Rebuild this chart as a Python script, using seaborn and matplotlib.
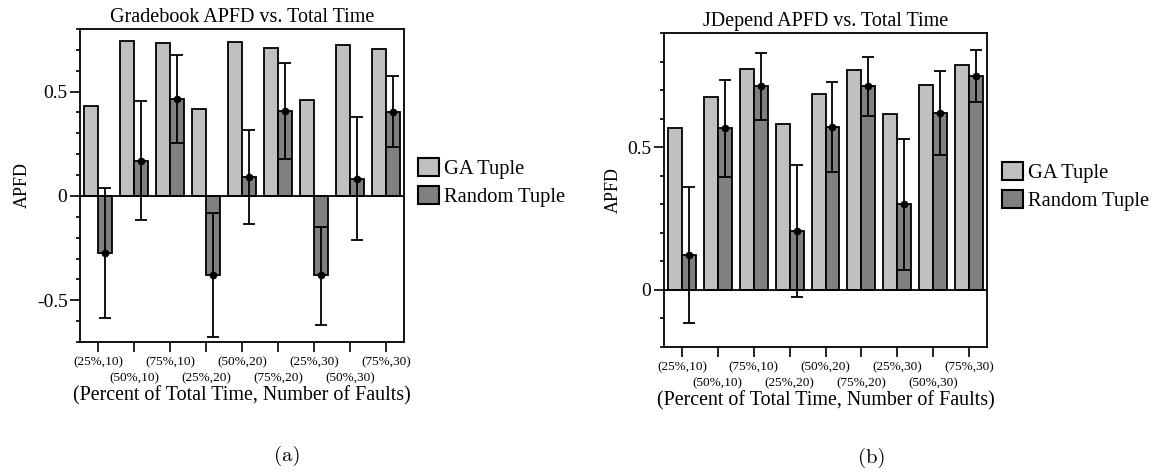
import numpy as np
import pandas as pd
import matplotlib
matplotlib.use("Agg")
import matplotlib.pyplot as plt
import matplotlib.patches as mpatches
from matplotlib.ticker import MultipleLocator, FixedLocator, FixedFormatter
import seaborn as sns

# ---------------- data ----------------
categories = ["(25%,10)", "(50%,10)", "(75%,10)", "(25%,20)", "(50%,20)",
              "(75%,20)", "(25%,30)", "(50%,30)", "(75%,30)"]
series = ["GA Tuple", "Random Tuple"]

grade_ga = [0.430, 0.744, 0.732, 0.416, 0.739, 0.709, 0.462, 0.725, 0.705]
grade_rand = [-0.272, 0.167, 0.465, -0.381, 0.091, 0.406, -0.381, 0.083, 0.403]
grade_rand_lo = [-0.586, -0.116, 0.252, -0.675, -0.135, 0.178, -0.619, -0.209, 0.236]
grade_rand_hi = [0.040, 0.454, 0.677, -0.083, 0.314, 0.637, -0.148, 0.377, 0.573]

jdep_ga = [0.568, 0.676, 0.773, 0.581, 0.688, 0.772, 0.616, 0.717, 0.787]
jdep_rand = [0.122, 0.566, 0.715, 0.205, 0.571, 0.714, 0.300, 0.621, 0.750]
jdep_rand_lo = [-0.117, 0.395, 0.595, -0.025, 0.414, 0.608, 0.071, 0.471, 0.657]
jdep_rand_hi = [0.360, 0.737, 0.831, 0.436, 0.729, 0.816, 0.528, 0.768, 0.841]

titles = ["Gradebook APFD vs. Total Time", "JDepend APFD vs. Total Time"]
captions = ["(a)", "(b)"]
xlabel = "(Percent of Total Time, Number of Faults)"
ylabel = "APFD"

colors = ["#c0c0c0", "#808080"]

plt.rcParams["font.family"] = ["Liberation Serif", "DejaVu Serif"]

fig = plt.figure(figsize=(11.57, 4.76), dpi=100)
W, H = 1157, 476

def frac(l, t, r, b):
    return [l / W, 1 - b / H, (r - l) / W, (b - t) / H]

panels = [
    dict(rect=frac(80, 29, 404, 342), ga=grade_ga, rd=grade_rand, lo=grade_rand_lo,
         hi=grade_rand_hi, ylim=(-0.7, 0.8), leg=(418, 158), cap=(287, 456)),
    dict(rect=frac(664, 33, 987, 347), ga=jdep_ga, rd=jdep_rand, lo=jdep_rand_lo,
         hi=jdep_rand_hi, ylim=(-0.2, 0.9), leg=(1002, 162), cap=(872, 458)),
]

for i, p in enumerate(panels):
    ax = fig.add_axes(p["rect"])
    df = pd.DataFrame({
        "cond": categories * 2,
        "series": [series[0]] * len(categories) + [series[1]] * len(categories),
        "apfd": list(p["ga"]) + list(p["rd"]),
    })
    sns.barplot(data=df, x="cond", y="apfd", hue="series", order=categories,
                hue_order=series, palette=colors, edgecolor="black", linewidth=1.3,
                width=0.78, gap=0, errorbar=None, ax=ax, legend=False, zorder=2)
    # error bars on random series
    rbars = ax.containers[1]
    xs = np.array([b.get_x() + b.get_width() / 2 for b in rbars])
    m = np.array(p["rd"])
    lo = np.array(p["lo"])
    hi = np.array(p["hi"])
    ax.errorbar(xs, m, yerr=[m - lo, hi - m], fmt="o", color="black", ms=4.5,
                capsize=4, elinewidth=1.3, capthick=1.3, zorder=4)
    ax.axhline(0, color="black", lw=1.3, zorder=3)

    ax.set_xlim(-0.5, len(categories) - 0.5)
    ax.set_ylim(*p["ylim"])
    ax.yaxis.set_major_locator(MultipleLocator(0.5))
    ax.yaxis.set_minor_locator(MultipleLocator(0.1))
    ax.yaxis.set_major_formatter(matplotlib.ticker.FuncFormatter(
        lambda v, pos: "0" if abs(v) < 1e-9 else f"{v:g}"))
    ax.tick_params(axis="y", which="major", length=7, width=1.2, labelsize=14, pad=2)
    ax.tick_params(axis="y", which="minor", length=3, width=1.2)

    # x ticks: even categories on upper row (major), odd on lower row (minor)
    even = list(range(0, len(categories), 2))
    odd = list(range(1, len(categories), 2))
    ax.xaxis.set_major_locator(FixedLocator(even))
    ax.xaxis.set_major_formatter(FixedFormatter([categories[k] for k in even]))
    ax.xaxis.set_minor_locator(FixedLocator(odd))
    ax.xaxis.set_minor_formatter(FixedFormatter([categories[k] for k in odd]))
    ax.tick_params(axis="x", which="major", length=7, width=1.2, pad=3, labelsize=9.5)
    ax.tick_params(axis="x", which="minor", length=7, width=1.2, pad=15, labelsize=9.5)
    for s in ax.spines.values():
        s.set_linewidth(1.3)
    ax.set_xlabel(xlabel, fontsize=14.4, labelpad=1)
    ax.set_ylabel(ylabel, fontsize=13)
    ax.set_title(titles[i], fontsize=14.5, pad=5)

    handles = [mpatches.Patch(facecolor=colors[k], edgecolor="black", linewidth=1.5,
                              label=series[k]) for k in range(2)]
    lx, ly = p["leg"]
    fig.legend(handles=handles, loc="upper left", bbox_to_anchor=(lx / W, 1 - ly / H),
               frameon=False, fontsize=14.8, handlelength=1.0, handleheight=0.95,
               handletextpad=0.25, labelspacing=0.35, borderpad=0, borderaxespad=0)
    cx, cy = p["cap"]
    fig.text(cx / W, 1 - cy / H, captions[i], ha="center", va="center",
             fontsize=15, family="cmr10")

fig.savefig("out.png", dpi=100)
